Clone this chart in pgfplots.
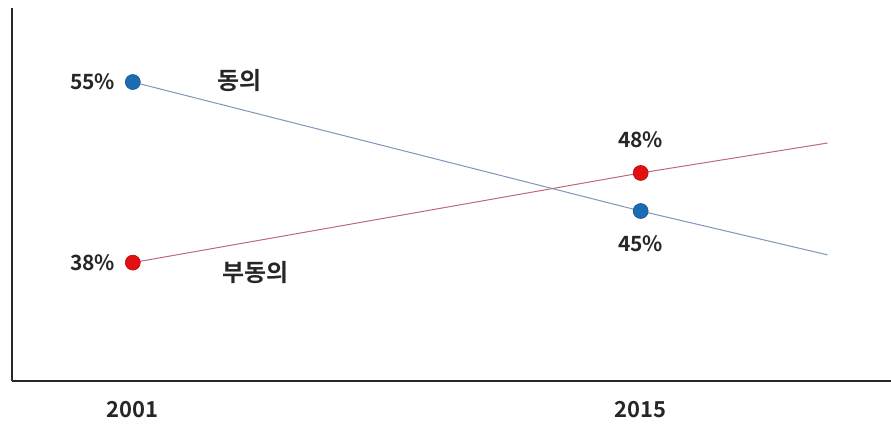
\documentclass[border=0pt]{standalone}
\usepackage{fontspec}
\setmainfont{Noto Sans CJK KR}[BoldFont={Noto Sans CJK KR Bold}]
\usepackage{pgfplots}
\pgfplotsset{compat=1.18}
\definecolor{bluemark}{RGB}{28,108,178}
\definecolor{redmark}{RGB}{226,16,16}
\definecolor{blueline}{RGB}{125,150,185}
\definecolor{redline}{RGB}{190,105,120}
\definecolor{axisgray}{RGB}{40,40,40}
\tikzset{lbl/.style={font=\fontsize{21}{24}\selectfont\bfseries, text=black!85, inner sep=0pt},
         klbl/.style={font=\fontsize{24}{28}\selectfont\bfseries, text=black!85, inner sep=0pt}}
\begin{document}
\begin{tikzpicture}[x=1pt,y=1pt]
\useasboundingbox (0,0) rectangle (891,426);
\begin{axis}[
  at={(12pt,45pt)}, anchor=south west,
  scale only axis, width=879pt, height=373pt,
  xmin=1997.67, xmax=2021.9, ymin=31.82, ymax=60.74,
  axis x line=bottom, axis y line=left,
  axis line style={-, line width=2.2pt, color=axisgray},
  xtick={2001,2015}, xticklabels={2001,2015},
  xtick style={draw=none}, ytick=\empty,
  xticklabel style={font=\fontsize{22}{24}\selectfont\bfseries, text=black!85, yshift=-15pt},
  /pgf/number format/assume math mode=true,
  clip=false,
]
\addplot[blueline, line width=1pt, mark=*, mark indices={1,2}, mark size=7.5pt,
  mark options={fill=bluemark, draw=bluemark!80!black, line width=0.6pt}]
  coordinates {(2001,55) (2015,45) (2020.15,41.6)};
\addplot[redline, line width=1pt, mark=*, mark indices={1,2}, mark size=7.5pt,
  mark options={fill=redmark, draw=redmark!80!black, line width=0.6pt}]
  coordinates {(2001,41.0) (2015,47.95) (2020.15,50.27)};
\node[lbl, anchor=east] at (axis cs:2000.52,55) {55\%};
\node[lbl, anchor=east] at (axis cs:2000.52,41.0) {38\%};
\node[lbl] at (axis cs:2015,50.5) {48\%};
\node[lbl] at (axis cs:2015,42.44) {45\%};
\node[klbl] at (axis cs:2003.95,55.15) {동의};
\node[klbl] at (axis cs:2004.39,40.27) {부동의};
\end{axis}
\end{tikzpicture}
\end{document}
